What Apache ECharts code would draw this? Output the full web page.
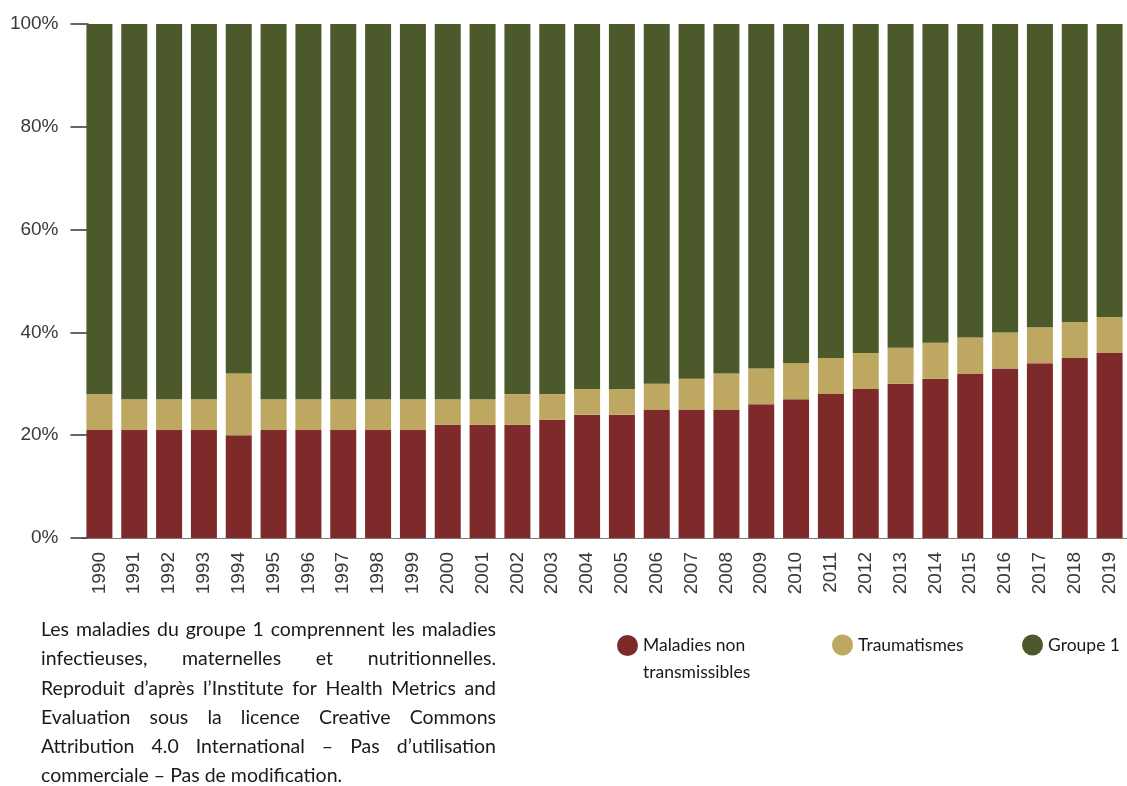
<!DOCTYPE html>
<html>
<head>
<meta charset="utf-8">
<script src="https://cdn.jsdelivr.net/npm/echarts@6/dist/echarts.min.js"></script>
<style>
  html, body { margin: 0; padding: 0; background: #ffffff; }
  #chart { width: 1127px; height: 786px; }
</style>
</head>
<body>
<div id="chart"></div>
<script>
// Share of deaths by cause group, 1990–2019 (percent)
const years = ['1990','1991','1992','1993','1994','1995','1996','1997','1998','1999',
               '2000','2001','2002','2003','2004','2005','2006','2007','2008','2009',
               '2010','2011','2012','2013','2014','2015','2016','2017','2018','2019'];
const ncd = [21,21,21,21,20,21,21,21,21,21,22,22,22,23,24,24,25,25,25,26,27,28,29,30,31,32,33,34,35,36];
const injuries = [7,6,6,6,12,6,6,6,6,6,5,5,6,5,5,5,5,6,7,7,7,7,7,7,7,7,7,7,7,7];
const group1 = [72,73,73,73,68,73,73,73,73,73,73,73,72,72,71,71,70,69,68,67,66,65,64,63,62,61,60,59,58,57];
const yTicks = [0, 20, 40, 60, 80, 100];

const seriesNames = ['Maladies non transmissibles', 'Traumatismes', 'Groupe 1'];
const colors = ['#7E2A2A', '#BEA760', '#4C5A2B'];

const noteLines = [
  'Les maladies du groupe 1 comprennent les maladies',
  'infectieuses, maternelles et nutritionnelles.',
  'Reproduit d’après l’Institute for Health Metrics and',
  'Evaluation sous la licence Creative Commons',
  'Attribution 4.0 International – Pas d’utilisation',
  'commerciale – Pas de modification.'
];

// Justified paragraph laid out word by word
const noteFont = '19.5px Lato';
const noteLeft = 41, noteRight = 496, noteTop = 630, noteStep = 29.2;
const ctx = document.createElement('canvas').getContext('2d');
ctx.font = noteFont;
const noteElements = [];
noteLines.forEach((line, i) => {
  const words = line.split(' ');
  const y = noteTop + i * noteStep;
  const last = i === noteLines.length - 1;
  if (last || words.length < 2) {
    noteElements.push({ type: 'text', x: noteLeft, y: y,
      style: { text: line, font: noteFont, fill: '#1a1a1a', verticalAlign: 'middle' } });
    return;
  }
  const widths = words.map(w => ctx.measureText(w).width);
  const total = widths.reduce((a, b) => a + b, 0);
  const gap = (noteRight - noteLeft - total) / (words.length - 1);
  let x = noteLeft;
  words.forEach((w, k) => {
    noteElements.push({ type: 'text', x: x, y: y,
      style: { text: w, font: noteFont, fill: '#1a1a1a', verticalAlign: 'middle' } });
    x += widths[k] + gap;
  });
});

const chart = echarts.init(document.getElementById('chart'));

const legendText = { fontFamily: 'Lato', fontSize: 17.5, color: '#1a1a1a' };

chart.setOption({
  animation: false,
  grid: { left: 82, top: 24, width: 1056, height: 514 },
  legend: [
    // leading blank line keeps the first line level with the marker
    { data: [seriesNames[0]], left: 617, top: 605, padding: 0, icon: 'circle',
      itemWidth: 21, itemHeight: 21, itemGap: 0,
      formatter: () => '\nMaladies non\ntransmissibles',
      textStyle: Object.assign({ lineHeight: 27 }, legendText) },
    { data: [seriesNames[1]], left: 832, top: 634.5, padding: 0, icon: 'circle',
      itemWidth: 21, itemHeight: 21, textStyle: legendText },
    { data: [seriesNames[2]], left: 1022, top: 634.5, padding: 0, icon: 'circle',
      itemWidth: 21, itemHeight: 21, textStyle: legendText }
  ],
  xAxis: {
    type: 'category',
    data: years,
    axisLine: { lineStyle: { color: '#7a7a7a', width: 1 } },
    axisTick: { alignWithLabel: true, length: 8, lineStyle: { color: '#555555' } },
    axisLabel: { rotate: 90, interval: 0, margin: 14, fontFamily: 'Liberation Sans',
      fontSize: 19, color: '#3a3a3a' }
  },
  yAxis: {
    type: 'value',
    min: yTicks[0], max: yTicks[yTicks.length - 1], interval: 20,
    offset: -5.5,
    axisLine: { show: true, lineStyle: { color: '#333333', width: 1.5 } },
    axisTick: { show: true, length: 17, lineStyle: { color: '#333333', width: 1.5 } },
    splitLine: { show: false },
    axisLabel: { formatter: '{value}%', margin: 29, fontFamily: 'Liberation Sans',
      fontSize: 19, color: '#3a3a3a' }
  },
  series: [
    { name: seriesNames[0], type: 'bar', stack: 'total', data: ncd, barWidth: 26,
      itemStyle: { color: colors[0] } },
    { name: seriesNames[1], type: 'bar', stack: 'total', data: injuries, barWidth: 26,
      itemStyle: { color: colors[1] } },
    { name: seriesNames[2], type: 'bar', stack: 'total', data: group1, barWidth: 26,
      itemStyle: { color: colors[2] } }
  ],
  graphic: noteElements
});
</script>
</body>
</html>
